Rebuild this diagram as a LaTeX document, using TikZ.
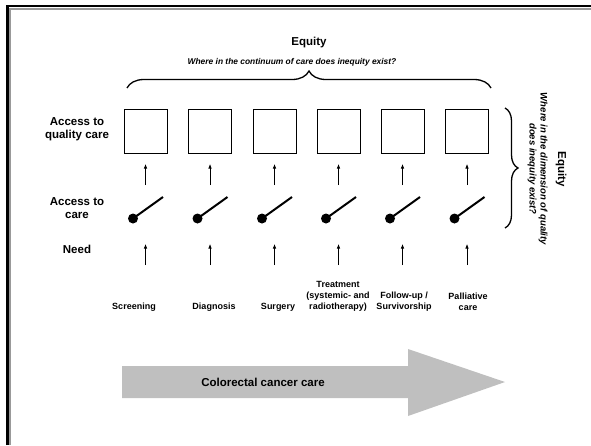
\documentclass[tikz,border=0pt]{standalone}
\usepackage{fontspec}
\setmainfont{Liberation Sans}
\usetikzlibrary{arrows.meta,decorations.pathreplacing,calc}
\begin{document}
\begin{tikzpicture}[x=1pt,y=-1pt,
  lbl/.style={font=\fontsize{11.5}{13}\selectfont\bfseries, align=center, inner sep=0pt},
  stagelbl/.style={font=\fontsize{9}{11}\selectfont\bfseries, align=center, inner sep=0pt},
  subq/.style={font=\fontsize{8.4}{11}\selectfont\bfseries\itshape, align=center, inner sep=0pt},
  qbox/.style={draw, line width=0.8pt, minimum width=43pt, minimum height=44pt, inner sep=0pt},
  uparrow/.style={-{Latex[length=4.5pt,width=3.5pt]}, line width=0.6pt},
  lever/.style={line width=2pt},
  ball/.style={circle, fill=black, minimum size=10pt, inner sep=0pt},
  bracestyle/.style={decorate, line width=1.3pt},
  bigarrow/.style={fill=black!25, draw=none}]
\useasboundingbox (0,0) rectangle (591,445);
% frame
\draw[black!40, line width=2pt] (9.5,445) -- (9.5,8.5) -- (591,8.5);
\draw[line width=2.5pt] (7.3,445) -- (7.3,6) -- (591,6);
% top heading
\node[lbl] (eqtop) at (309,43) {Equity};
\node[subq] (subtop) at (292,62) {Where in the continuum of care does inequity exist?};
\coordinate (bl) at (127,88);
\coordinate (br) at (491,88);
\draw[bracestyle, decoration={brace, amplitude=17pt}] (bl) -- (br);
% right heading
\coordinate (rt) at (505,108);
\coordinate (rb) at (505,228);
\draw[bracestyle, decoration={brace, amplitude=13pt}] (rt) -- (rb);
\node[lbl, rotate=-90] (eqright) at (561,169) {Equity};
\node[subq, font=\fontsize{9.5}{11}\selectfont\bfseries\itshape, rotate=-90] (subright) at (537.5,169) {Where in the dimension of quality\\does inequity exist?};
% row labels
\node[lbl] (rowq) at (77,129) {Access to\\quality care};
\node[lbl] (rowa) at (77,208) {Access to\\care};
\node[lbl] (rown) at (77,249) {Need};
% columns
\foreach \i/\x in {1/145.5,2/210,3/274.5,4/338.5,5/402.5,6/467}{
  \node[qbox] (box\i) at (\x,131) {};
  \coordinate (ua\i) at (\x,185);
  \draw[uparrow] (ua\i) -- (\x,164);
  \node[ball] (ball\i) at (\x-12.5,218.5) {};
  \coordinate (lev\i) at (\x+17.5,197);
  \draw[lever] (ball\i.center) -- (lev\i);
  \coordinate (la\i) at (\x,265);
  \coordinate (lt\i) at (\x,244);
  \draw[uparrow] (la\i) -- (lt\i);
}
% stage labels
\node[stagelbl] (s1) at (134,307) {Screening};
\node[stagelbl] (s2) at (214,307) {Diagnosis};
\node[stagelbl] (s3) at (278,307) {Surgery};
\node[stagelbl] (s4) at (338,296) {Treatment\\(systemic- and\\radiotherapy)};
\node[stagelbl] (s5) at (404,301.5) {Follow-up /\\Survivorship};
\node[stagelbl] (s6) at (468,301.5) {Palliative\\care};
% big arrow
\fill[bigarrow] (122,366) -- (408,366) -- (408,349) -- (505,382) -- (408,416) -- (408,398) -- (122,398) -- cycle;
\node[lbl] (crc) at (263,382) {Colorectal cancer care};
\end{tikzpicture}
\end{document}
